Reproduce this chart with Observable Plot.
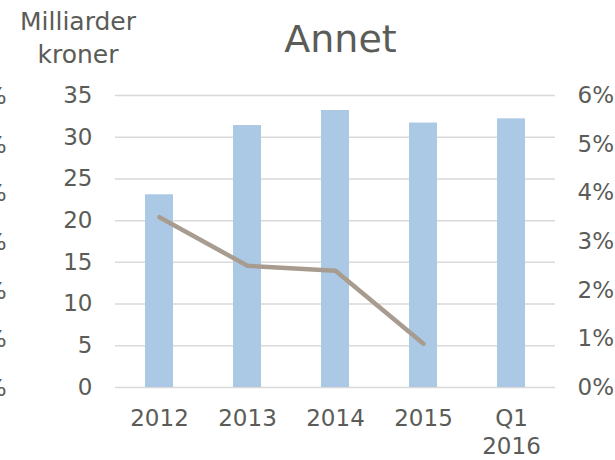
<!DOCTYPE html>
<html><head><meta charset="utf-8">
<script src="https://cdn.jsdelivr.net/npm/d3@7"></script>
<script src="https://cdn.jsdelivr.net/npm/@observablehq/plot@0.6"></script>
<style>
body{margin:0;background:#fff;}
#wrap{position:relative;width:615px;height:460px;font-family:"DejaVu Sans",Verdana,sans-serif;color:#5b5c57;}
#title{position:absolute;left:0;width:681px;top:14px;text-align:center;font-size:38px;line-height:50px;}
#unit{position:absolute;left:0;width:156px;top:5px;text-align:center;font-size:25px;line-height:33px;}
</style></head><body>
<div id="wrap"><div id="chart"></div><div id="title">Annet</div><div id="unit">Milliarder<br>kroner</div></div>
<script>
const categories = ["2012","2013","2014","2015","Q1\n2016"];
const amounts = [23.1, 31.4, 33.2, 31.7, 32.2];
const shares = [3.5, 2.5, 2.4, 0.9, null];
const leftTicks = [0,5,10,15,20,25,30,35];
const rightTicks = [0,1,2,3,4,5,6];
const yMax = 35, y2Max = 6;

const bars = categories.map((c,i)=>({c, v: amounts[i]}));
const line = categories.map((c,i)=>({c, p: shares[i]})).filter(d=>d.p!=null);
const conv = p => p / y2Max * yMax;
const txt = "#5b5c57";

const chart = Plot.plot({
  width: 615, height: 460,
  marginTop: 95, marginBottom: 73, marginLeft: 115, marginRight: 60,
  style: {fontFamily: '"DejaVu Sans", Verdana, sans-serif', fontSize: "23px", color: txt, background: "transparent", overflow: "visible"},
  x: {domain: categories, paddingInner: 0.68, paddingOuter: 0.34, axis: null},
  y: {domain: [0, yMax], axis: null},
  marks: [
    Plot.ruleY(leftTicks, {stroke: "#d9d9d9", strokeWidth: 1.5}),
    Plot.barY(bars, {x: "c", y: "v", fill: "#abc9e5"}),
    Plot.line(line, {x: "c", y: d => conv(d.p), stroke: "#a89c90", strokeWidth: 4.5, strokeLinecap: "round", strokeLinejoin: "round"}),
    Plot.axisY(leftTicks, {anchor: "left", tickSize: 0, tickPadding: 23, fill: txt, fontSize: 23, label: null}),
    Plot.axisY(rightTicks.map(conv), {anchor: "right", tickSize: 0, tickPadding: 22, fill: txt, fontSize: 23, label: null, tickFormat: (d,i) => rightTicks[i] + "%"}),
    Plot.axisX(categories, {anchor: "bottom", tickSize: 0, tickPadding: 19, fill: txt, fontSize: 23, label: null, lineHeight: 1.2}),
    Plot.text(rightTicks.map(conv), {y: d => d, frameAnchor: "left", dx: -109, dy: 1, text: () => "3%", textAnchor: "end", fill: txt, fontSize: 23})
  ]
});
document.getElementById("chart").appendChild(chart);
</script>
</body></html>
